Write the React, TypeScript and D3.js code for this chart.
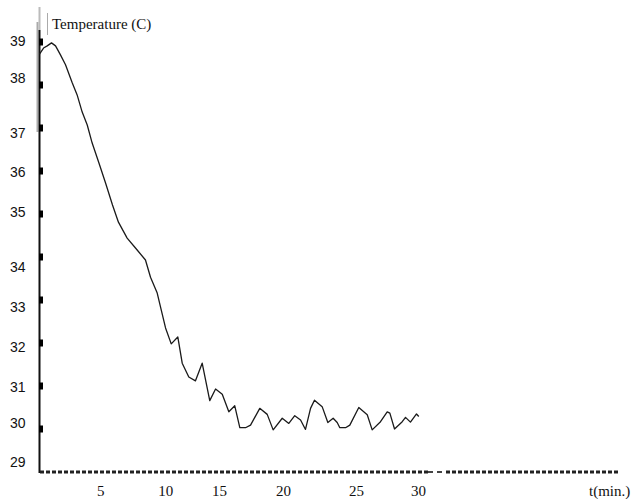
import React from "react";
import * as d3 from "d3";

const times = [0, 0.32, 0.61, 0.95, 1.27, 1.66, 2.06, 2.59, 2.98, 3.38, 3.78, 4.17, 4.7, 5.23, 5.78, 6.25, 6.94, 7.6, 8.39, 8.79, 9.32, 9.58, 9.98, 10.43, 10.95, 11.3, 11.82, 12.35, 12.88, 13.48, 13.94, 14.47, 14.99, 15.46, 15.86, 16.31, 16.71, 17.44, 18.03, 18.5, 19.22, 19.74, 20.21, 20.67, 21.06, 21.46, 21.77, 22.38, 22.83, 23.25, 23.57, 23.78, 24.23, 24.57, 25.28, 25.95, 26.34, 27.0, 27.53, 27.74, 28.11, 28.72, 28.98, 29.37, 29.85, 30.03];
const temps = [38.72, 38.86, 38.91, 38.98, 38.91, 38.7, 38.47, 38.05, 37.77, 37.37, 37.07, 36.65, 36.19, 35.72, 35.21, 34.81, 34.44, 34.21, 33.93, 33.53, 33.16, 32.84, 32.35, 31.98, 32.14, 31.53, 31.21, 31.12, 31.53, 30.66, 30.93, 30.81, 30.4, 30.54, 30.03, 30.03, 30.09, 30.48, 30.34, 29.98, 30.25, 30.13, 30.31, 30.21, 29.99, 30.48, 30.67, 30.52, 30.15, 30.25, 30.15, 30.03, 30.03, 30.09, 30.5, 30.33, 29.98, 30.17, 30.4, 30.37, 30.0, 30.17, 30.27, 30.16, 30.35, 30.29];

const yTicks = [30, 31, 32, 33, 34, 35, 36, 37, 38, 39];
const yLabels = ["29", "30", "31", "32", "33", "34", "35", "36", "37", "38", "39"];
const yLabelAt = [29.23, 30.14, 30.98, 31.9, 32.83, 33.77, 35.05, 35.97, 36.88, 38.16, 39.02];
const xLabels = ["5", "10", "15", "20", "25", "30"];
const xLabelAt = [4.84, 10, 14.25, 19.32, 25.1, 30];

const yTitle = "Temperature (C)";
const xTitle = "t(min.)";

export default function App() {
  const W = 638, H = 499;
  const x = d3.scaleLinear().domain([0, 30]).range([39.5, 418.4]);
  const y = d3.scaleLinear().domain([29, 39]).range([472, 42]);
  const line = d3.line<number>().x((_, i) => x(times[i])).y((d) => y(d));
  const serif = "'Liberation Serif', 'Times New Roman', serif";
  const sans = "'Liberation Sans', Arial, sans-serif";
  return (
    <svg width={W} height={H} style={{ position: "absolute", left: 0, top: 0, background: "#fff" }}>
      <rect x={0} y={0} width={W} height={H} fill="#fff" />
      {/* axis decorations */}
      <line x1={37.5} x2={37.5} y1={22} y2={132} stroke="#aaa" strokeWidth={2} />
      <line x1={39.5} x2={39.5} y1={7} y2={30} stroke="#bbb" strokeWidth={2} />
      <line x1={39.5} x2={39.5} y1={30} y2={473} stroke="#111" strokeWidth={2} />
      <line x1={47.5} x2={47.5} y1={13} y2={35} stroke="#aaa" strokeWidth={1} />
      {yTicks.map((v) => (
        <rect key={v} x={39} y={y(v) - 3.5} width={4} height={7} fill="#000" />
      ))}
      {/* x axis dotted */}
      <line x1={40} x2={428} y1={472} y2={472} stroke="#222" strokeWidth={3} strokeDasharray="4 2" />
      <line x1={428} x2={446} y1={472} y2={472} stroke="#444" strokeWidth={2} strokeDasharray="5 4" />
      <line x1={446} x2={618} y1={472} y2={472} stroke="#222" strokeWidth={3} strokeDasharray="4 2" />
      {/* y labels */}
      {yLabels.map((l, i) => (
        <text key={l} x={10} y={y(yLabelAt[i])} dy="0.36em" fontFamily={sans} fontSize={14} fill="#111">
          {l}
        </text>
      ))}
      {/* x labels */}
      {xLabels.map((l, i) => (
        <text key={l} x={x(xLabelAt[i])} y={496} textAnchor="middle" fontFamily={serif} fontSize={15} fill="#111">
          {l}
        </text>
      ))}
      <text x={52} y={29} fontFamily={serif} fontSize={15} fill="#111">{yTitle}</text>
      <text x={589} y={496} fontFamily={serif} fontSize={15} fill="#111">{xTitle}</text>
      <path d={line(temps) || ""} fill="none" stroke="#1a1a1a" strokeWidth={1.3} strokeLinejoin="round" />
    </svg>
  );
}
